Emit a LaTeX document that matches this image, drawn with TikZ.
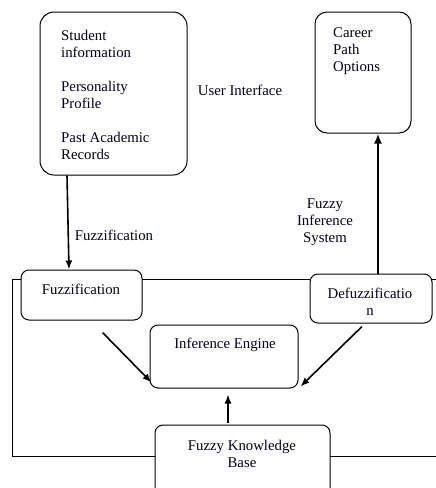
\documentclass[tikz,border=0pt]{standalone}
\usepackage{fontspec}
\setmainfont{Liberation Serif}
\usetikzlibrary{arrows.meta,positioning,calc}
\tikzset{
  bigbox/.style={draw=black, rounded corners=14pt, line width=1pt, fill=white},
  smallbox/.style={draw=black, rounded corners=8pt, line width=1pt, fill=white},
  lbl/.style={inner sep=0pt, font=\fontsize{14.8}{17}\selectfont, text=black!90!blue},
  arrow/.style={-{Latex[length=9pt,width=7pt]}, line width=1.6pt},
  thickarrow/.style={-{Latex[length=10pt,width=8pt]}, line width=2.6pt},
  frameline/.style={draw=black, line width=0.9pt}
}
\begin{document}
\begin{tikzpicture}[x=1pt,y=-1pt]
  \useasboundingbox (0,0) rectangle (436,488);
  \clip (0,0) rectangle (436,488);
  % outer frame of the fuzzy inference system
  \draw[frameline] (12,279) rectangle (450,456);
  % user interface side
  \node[bigbox, minimum width=147pt, minimum height=163pt] (student) at (113.5,93.5) {};
  \node[lbl, align=left, anchor=north west] (studtxt) at (61,30) {Student\\information\\[17pt]Personality\\Profile\\[17pt]Past Academic\\Records};
  \node[lbl] (ui) at (240,90) {User Interface};
  \node[bigbox, rounded corners=12pt, minimum width=96pt, minimum height=121pt] (career) at (363,72.5) {};
  \node[lbl, align=left, anchor=north west] (cartxt) at (333,27) {Career\\Path\\Options};
  % inference blocks
  \node[smallbox, minimum width=121pt, minimum height=50pt] (fuzz) at (81.5,295) {};
  \node[lbl] (fuzztxt) at (81,289) {Fuzzification};
  \node[smallbox, minimum width=122pt, minimum height=49pt] (defuzz) at (371,298.5) {};
  \node[lbl, align=center] (defuzztxt) at (370,301.5) {Defuzzificatio\\n};
  \node[smallbox, minimum width=148pt, minimum height=63pt] (inf) at (224,356.5) {};
  \node[lbl] (inftxt) at (225,345) {Inference Engine};
  \node[smallbox, minimum width=175pt, minimum height=72pt] (fkb) at (242.5,461) {};
  \node[lbl, align=center] (fkbtxt) at (242,454) {Fuzzy Knowledge\\Base};
  % connectors
  \draw[arrow] ([xshift=-46.5pt]student.south) -- ([xshift=-12.5pt]fuzz.north);
  \node[lbl] (fuzzlbl) at (114,235) {Fuzzification};
  \draw[thickarrow] ([xshift=7pt]defuzz.north) -- ([xshift=15pt]career.south);
  \node[lbl, align=center] (fislbl) at (325,222) {Fuzzy\\Inference\\System};
  \draw[arrow] ([xshift=21pt,yshift=-12pt]fuzz.south) -- ([xshift=2pt,yshift=6pt]inf.south west);
  \draw[arrow] ([xshift=-9pt,yshift=-3pt]defuzz.south) -- ([xshift=2pt,yshift=2pt]inf.south east);
  \draw[arrow] ([xshift=-14.5pt,yshift=2pt]fkb.north) -- ([xshift=4pt,yshift=-6pt]inf.south);
\end{tikzpicture}
\end{document}
